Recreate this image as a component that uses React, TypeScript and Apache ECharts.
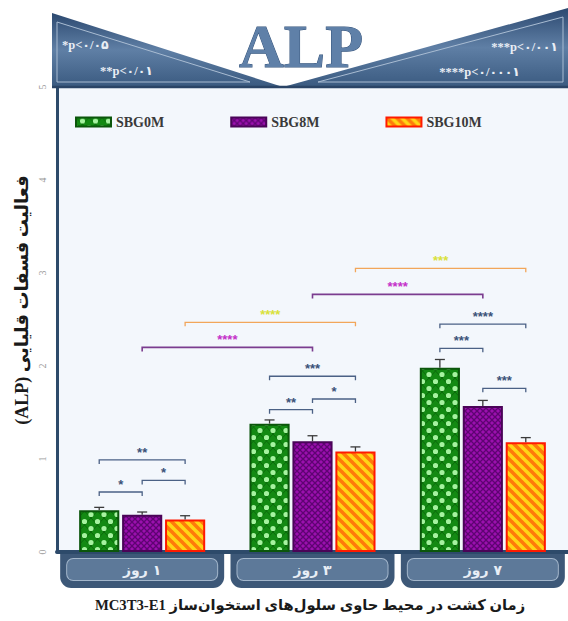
import React, { useEffect, useRef } from 'react';
import * as echarts from 'echarts';

const categories = ['روز ۱', 'روز ۳', 'روز ۷'];
const seriesNames = ['SBG0M', 'SBG8M', 'SBG10M'];
const sbg0m = [0.45, 1.38, 1.98];
const sbg8m = [0.40, 1.19, 1.57];
const sbg10m = [0.35, 1.08, 1.18];
const err0 = [0.03, 0.04, 0.09];
const err8 = [0.03, 0.06, 0.06];
const err10 = [0.04, 0.05, 0.05];
const yMin = 0;
const yMax = 5;
const yInterval = 1;

// [fromCategory, fromBar, toCategory, toBar, bracketValue, stars, kind]
const brackets: [number, number, number, number, number, string, string][] = [
  [0, 0, 0, 1, 0.645, '*', 'in'],
  [0, 1, 0, 2, 0.77, '*', 'in'],
  [0, 0, 0, 2, 0.99, '**', 'in'],
  [1, 0, 1, 1, 1.53, '**', 'in'],
  [1, 1, 1, 2, 1.645, '*', 'in'],
  [1, 0, 1, 2, 1.89, '***', 'in'],
  [2, 0, 2, 1, 2.19, '***', 'in'],
  [2, 1, 2, 2, 1.76, '***', 'in'],
  [2, 0, 2, 2, 2.45, '****', 'in'],
  [0, 1, 1, 1, 2.2, '****', 'purple'],
  [0, 2, 1, 2, 2.47, '****', 'orange'],
  [1, 1, 2, 1, 2.77, '****', 'purple'],
  [1, 2, 2, 2, 3.05, '***', 'orange'],
];

const headerTexts = ['*p<۰/۰۵', '**p<۰/۰۱', '***p<۰/۰۰۱', '****p<۰/۰۰۰۱'];
const yAxisTitle = 'فعالیت فسفات قلیایی (ALP)';
const xAxisTitle = 'زمان کشت در محیط حاوی سلول‌های استخوان‌ساز MC3T3-E1';

const CAT_GAP = 0.26;
const BAR_GAP = 0.07;
const N_BARS = 3;

const bracketStyle: Record<string, { line: string; star: string; width: number }> = {
  in: { line: '#4b6185', star: '#3b5278', width: 1.3 },
  purple: { line: '#7b3d8f', star: '#c431c9', width: 1.6 },
  orange: { line: '#f2a65a', star: '#d9e13a', width: 1.3 },
};

function barX(api: any, cat: number, slot: number, v: number) {
  const c = api.coord([cat, v]);
  const band = api.size([1, 0])[0];
  const group = band * (1 - CAT_GAP);
  const w = group / (N_BARS + (N_BARS - 1) * BAR_GAP);
  return [c[0] - group / 2 + w / 2 + slot * w * (1 + BAR_GAP), c[1], w];
}

function makeTile(w: number, h: number, draw: (ctx: CanvasRenderingContext2D) => void) {
  const c = document.createElement('canvas');
  c.width = w;
  c.height = h;
  const ctx = c.getContext('2d')!;
  draw(ctx);
  return c;
}

function greenTile() {
  return makeTile(13, 14, (ctx) => {
    ctx.fillStyle = '#138a13';
    ctx.fillRect(0, 0, 13, 14);
    ctx.strokeStyle = '#0c6a0c';
    ctx.lineWidth = 1;
    ctx.beginPath();
    ctx.moveTo(0, 0); ctx.lineTo(13, 14);
    ctx.moveTo(13, 0); ctx.lineTo(0, 14);
    ctx.stroke();
    ctx.fillStyle = '#a6f3a0';
    const dots = [[6.5, 0], [0, 7], [13, 7], [6.5, 14], [0, 0], [13, 0], [0, 14], [13, 14]];
    // light dots at diamond centres
    ctx.beginPath();
    ctx.arc(6.5, 3.5, 2.6, 0, Math.PI * 2);
    ctx.arc(0, 10.5, 2.6, 0, Math.PI * 2);
    ctx.fill();
    ctx.beginPath();
    ctx.arc(13, 10.5, 2.6, 0, Math.PI * 2);
    ctx.fill();
    void dots;
  });
}

function purpleTile() {
  return makeTile(6, 6, (ctx) => {
    ctx.fillStyle = '#9b10ae';
    ctx.fillRect(0, 0, 6, 6);
    ctx.strokeStyle = '#5e0472';
    ctx.lineWidth = 1.3;
    ctx.beginPath();
    ctx.moveTo(-1, -1); ctx.lineTo(7, 7);
    ctx.moveTo(7, -1); ctx.lineTo(-1, 7);
    ctx.stroke();
  });
}

function orangeTile() {
  return makeTile(10, 10, (ctx) => {
    ctx.fillStyle = '#ffd616';
    ctx.fillRect(0, 0, 10, 10);
    ctx.strokeStyle = '#ff7a0a';
    ctx.lineWidth = 3.6;
    ctx.beginPath();
    for (let k = -10; k <= 10; k += 10) {
      ctx.moveTo(k - 2, -2);
      ctx.lineTo(k + 12, 12);
    }
    ctx.stroke();
  });
}

export default function App() {
  const ref = useRef<HTMLDivElement>(null);
  useEffect(() => {
    document.body.style.margin = '0';
    const chart = echarts.init(ref.current!, null, { renderer: 'svg' });
    const serif = 'Liberation Serif, DejaVu Serif, serif';
    const errData: number[][] = [];
    [err0, err8, err10].forEach((errs, s) => {
      const vals = [sbg0m, sbg8m, sbg10m][s];
      errs.forEach((e, i) => errData.push([i, vals[i], e, s]));
    });
    const bracketData = brackets.map((b) => [b[0], b[4], b[1], b[2], b[3]]);
    const headerFill = new echarts.graphic.LinearGradient(0, 0, 0, 1, [
      { offset: 0, color: '#2c4970' },
      { offset: 0.5, color: '#5f7fa5' },
      { offset: 1, color: '#3a5a80' },
    ]);
    const hdrFont = 'bold 12.5px Liberation Serif, DejaVu Sans, serif';

    const option: any = {
      animation: false,
      backgroundColor: '#ffffff',
      grid: {
        left: 57,
        right: 0,
        top: 87,
        bottom: 69,
        show: true,
        backgroundColor: '#f3f7fc',
        borderWidth: 0,
      },
      legend: {
        left: 70,
        top: 110,
        icon: 'rect',
        itemWidth: 35,
        itemHeight: 9,
        itemGap: 66,
        data: seriesNames,
        textStyle: { fontFamily: serif, fontWeight: 'bold', fontSize: 14, color: '#3a3a3a' },
      },
      xAxis: {
        type: 'category',
        data: categories,
        axisTick: { show: false },
        axisLine: { lineStyle: { color: '#2d4a6a', width: 4 } },
        axisLabel: {
          interval: 0,
          margin: 2,
          formatter: (v: string) => `{a|${v.replace(' ', '\u200E ')}}`,
          backgroundColor: '#3d5878',
          borderRadius: [0, 0, 11, 11],
          padding: [5, 7, 8, 7],
          rich: {
            a: {
              width: 150,
              height: 21,
              lineHeight: 21,
              align: 'center',
              backgroundColor: '#5d7999',
              borderColor: '#a3b6cb',
              borderWidth: 1,
              borderRadius: 6,
              color: '#e8eef6',
              fontSize: 14,
              fontWeight: 'bold',
              fontFamily: 'DejaVu Sans, sans-serif',
            },
          },
        },
      },
      yAxis: {
        type: 'value',
        min: yMin,
        max: yMax,
        interval: yInterval,
        splitLine: { show: false },
        axisTick: { show: false },
        axisLine: { show: true, lineStyle: { color: '#2d4a6a', width: 3 } },
        axisLabel: { rotate: 90, margin: 10, color: '#9a9a9a', fontSize: 10, fontFamily: serif },
      },
      series: [
        {
          name: seriesNames[0],
          type: 'bar',
          data: sbg0m,
          barCategoryGap: CAT_GAP * 100 + '%',
          barGap: BAR_GAP * 100 + '%',
          itemStyle: {
            color: { image: greenTile(), repeat: 'repeat' },
            borderColor: '#0b560b',
            borderWidth: 2,
          },
        },
        {
          name: seriesNames[1],
          type: 'bar',
          data: sbg8m,
          itemStyle: {
            color: { image: purpleTile(), repeat: 'repeat' },
            borderColor: '#4a0458',
            borderWidth: 2,
          },
        },
        {
          name: seriesNames[2],
          type: 'bar',
          data: sbg10m,
          itemStyle: {
            color: { image: orangeTile(), repeat: 'repeat' },
            borderColor: '#ff1a00',
            borderWidth: 2,
          },
        },
        {
          type: 'custom',
          data: errData,
          z: 5,
          silent: true,
          renderItem: (params: any, api: any) => {
            const cat = api.value(0);
            const v = api.value(1);
            const e = api.value(2);
            const s = api.value(3);
            const p = barX(api, cat, s, v);
            const top = api.coord([cat, v + e])[1];
            const half = 5;
            const st = { stroke: '#3a3a3a', lineWidth: 1.3 };
            return {
              type: 'group',
              children: [
                { type: 'line', shape: { x1: p[0], y1: p[1], x2: p[0], y2: top }, style: st },
                { type: 'line', shape: { x1: p[0] - half, y1: top, x2: p[0] + half, y2: top }, style: st },
              ],
            };
          },
        },
        {
          type: 'custom',
          data: bracketData,
          z: 6,
          silent: true,
          renderItem: (params: any, api: any) => {
            const b = brackets[params.dataIndex];
            const st = bracketStyle[b[6]];
            const v = api.value(1);
            const a = barX(api, api.value(0), api.value(2), v);
            const c = barX(api, api.value(3), api.value(4), v);
            const y = a[1];
            const tick = 4;
            return {
              type: 'group',
              children: [
                {
                  type: 'polyline',
                  shape: { points: [[a[0], y + tick], [a[0], y], [c[0], y], [c[0], y + tick]] },
                  style: { stroke: st.line, lineWidth: st.width, fill: null },
                },
                {
                  type: 'text',
                  x: (a[0] + c[0]) / 2,
                  y: y - 1,
                  style: {
                    text: b[5],
                    fill: st.star,
                    font: 'bold 13px Liberation Sans, sans-serif',
                    align: 'center',
                    verticalAlign: 'bottom',
                  },
                },
              ],
            };
          },
        },
      ],
      graphic: [
        {
          type: 'polygon',
          z: 10,
          shape: { points: [[52, 13], [52, 87], [283, 87]] },
          style: { fill: headerFill },
        },
        {
          type: 'polygon',
          z: 10,
          shape: { points: [[568, 8], [568, 87], [283, 87]] },
          style: { fill: headerFill },
        },
        {
          type: 'polyline',
          z: 11,
          shape: { points: [[57, 22], [57, 82], [250, 82], [57, 22]] },
          style: { stroke: '#a9bcd2', lineWidth: 1, fill: null },
        },
        {
          type: 'polyline',
          z: 11,
          shape: { points: [[563, 17], [563, 82], [318, 82], [563, 17]] },
          style: { stroke: '#a9bcd2', lineWidth: 1, fill: null },
        },
        {
          type: 'line',
          z: 12,
          shape: { x1: 52, y1: 87, x2: 568, y2: 87 },
          style: { stroke: '#2a4466', lineWidth: 2.5 },
        },
        {
          type: 'text',
          z: 12,
          x: 301,
          y: 46,
          style: {
            text: 'ALP',
            font: 'bold 62px Liberation Serif, serif',
            align: 'center',
            verticalAlign: 'middle',
            fill: '#5f80a8',
            stroke: '#34527a',
            lineWidth: 1,
          },
        },
        {
          type: 'text', z: 12, x: 62, y: 45,
          style: { text: headerTexts[0], font: hdrFont, fill: '#e9eef5', verticalAlign: 'middle' },
        },
        {
          type: 'text', z: 12, x: 100, y: 71,
          style: { text: headerTexts[1], font: hdrFont, fill: '#e9eef5', verticalAlign: 'middle' },
        },
        {
          type: 'text', z: 12, x: 558, y: 47,
          style: { text: headerTexts[2], font: hdrFont, fill: '#e9eef5', align: 'right', verticalAlign: 'middle' },
        },
        {
          type: 'text', z: 12, x: 520, y: 72,
          style: { text: headerTexts[3], font: hdrFont, fill: '#e9eef5', align: 'right', verticalAlign: 'middle' },
        },
        {
          type: 'text',
          z: 12,
          x: 22,
          y: 300,
          rotation: Math.PI / 2,
          style: {
            text: '\u202B' + yAxisTitle + '\u202C',
            font: 'bold 18px Liberation Serif, DejaVu Sans, serif',
            fill: '#1a1a1a',
            align: 'center',
            verticalAlign: 'middle',
          },
        },
        {
          type: 'text',
          z: 12,
          x: 310,
          y: 605,
          style: {
            text: '\u202B' + xAxisTitle + '\u202C',
            font: 'bold 14.7px Liberation Serif, DejaVu Sans, serif',
            fill: '#1a1a1a',
            align: 'center',
            verticalAlign: 'middle',
          },
        },
      ],
    };
    chart.setOption(option);
    return () => chart.dispose();
  }, []);
  return <div ref={ref} style={{ position: 'fixed', left: 0, top: 0, width: 568, height: 621 }} />;
}
